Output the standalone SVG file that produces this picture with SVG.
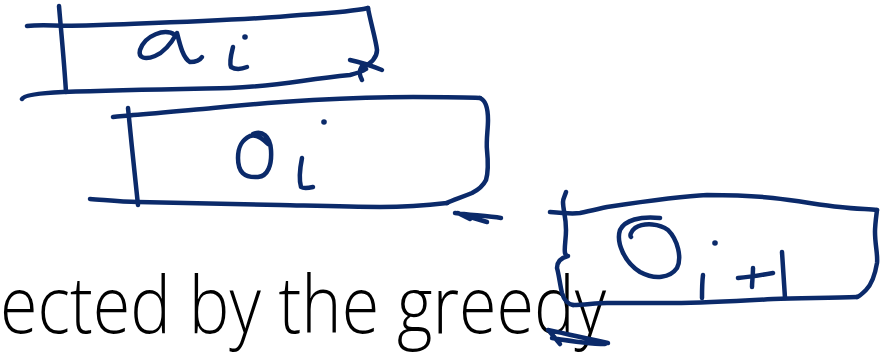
<svg xmlns="http://www.w3.org/2000/svg" width="884" height="353" viewBox="0 0 884 353">
<style>
.s{fill:none;stroke:#0b2a6a;stroke-width:4.5;stroke-linecap:round;stroke-linejoin:round}
.t{font-family:"Open Sans","Noto Sans",sans-serif;font-weight:300;font-size:80px;fill:#000}
</style>
<rect width="884" height="353" fill="#fff"/>
<text class="t" x="0" y="333" textLength="606" lengthAdjust="spacingAndGlyphs">ected by the greedy</text>
<g id="box-ai">
<path class="s" d="M59,6 C61,30 64,60 66,92"/>
<path class="s" d="M27,26 C45,24 60,27 100,25 C180,22 250,20 300,15 C330,13 350,12 368,8"/>
<path class="s" d="M368,8 C370,20 376,40 377,50 C377,58 370,64 362,68"/>
<path class="s" d="M350,60 C360,62 372,66 382,70 M362,66 C358,72 360,76 362,80"/>
<path class="s" d="M22,99 C24,95 40,93 63,92 C120,90 180,89 230,88 C280,86 300,80 350,75 C358,73 363,71 366,69"/>
<path class="s" d="M175,35 C165,28 145,35 140,50 C138,58 145,60 155,56 C165,52 172,42 177,33 C180,45 183,58 190,62 C195,62 200,60 202,57"/>
<path class="s" d="M233,47 C231,55 229,62 231,67 C236,70 242,69 247,67"/>
<circle cx="245" cy="37" r="2.8" fill="#0b2a6a"/>
</g>
<g id="box-oi">
<path class="s" d="M128,108 C131,140 135,175 138,205"/>
<path class="s" d="M113,117 C120,116 128,116 133,115 C160,113 190,110 213,108 C250,104 280,102 313,100 C350,98 390,97 413,97 C440,97 465,97 480,98"/>
<path class="s" d="M480,98 C485,100 488,108 488,120 C488,130 486,140 487,150 C488,160 489,170 486,180 C483,186 478,190 472,193 C460,198 452,200 447,203"/>
<path class="s" d="M90,199 C105,200 120,202 138,202 C180,203 230,204 280,205 C320,206 350,207 380,207 C410,207 430,205 447,203"/>
<path class="s" d="M253,134 C262,130 270,136 271,150 C272,165 268,176 258,177 C244,178 238,172 238,158 C238,146 242,140 250,136 C256,134 262,138 268,144"/>
<path class="s" d="M302,158 C300,168 299,180 301,187 C304,189 309,188 313,187"/>
<circle cx="324" cy="122" r="2.8" fill="#0b2a6a"/>
<path class="s" d="M455,213 C470,215 488,216 501,218 M460,214 C470,217 480,220 487,222 M458,213 L470,219"/>
</g>
<g id="box-oi1">
<path class="s" d="M566,192 C565,196 563,198 563,202 C563,210 566,216 566,230 C566,240 564,248 565,253 C566,256 568,256 568,256 C560,258 557,262 557,268 C559,275 560,285 562,293 C564,300 568,304 573,305"/>
<path class="s" d="M550,212 C560,213 572,214 580,213 C590,211 598,209 607,207 C640,202 680,196 707,195 C730,195 755,196 773,198 C800,201 820,205 840,207 C855,209 868,209 877,210"/>
<path class="s" d="M877,210 C876,218 875,225 875,232 C875,245 878,255 877,263 C875,275 871,285 866,290 C862,294 860,296 857,297"/>
<path class="s" d="M857,297 C830,298 800,298 773,299 C740,301 700,303 673,303 C650,303 625,303 607,303 C595,303 585,305 573,305"/>
<path class="s" d="M660,218 C640,216 625,220 620,230 C616,242 624,262 640,272 C655,280 670,278 677,268 C682,258 678,240 668,230 C660,224 645,222 635,228 C630,232 630,236 631,237"/>
<path class="s" d="M703,275 C702,283 702,292 702,298"/>
<circle cx="715" cy="243" r="2.8" fill="#0b2a6a"/>
<path class="s" d="M738,278 C750,277 762,275 773,273 M753,268 C753,275 752,282 752,287"/>
<path class="s" d="M782,252 C783,268 784,284 785,298"/>
<path class="s" d="M548,330 C568,334 588,339 608,343 M552,338 C570,341 590,344 605,344 M550,332 L560,344"/>
</g>
</svg>
